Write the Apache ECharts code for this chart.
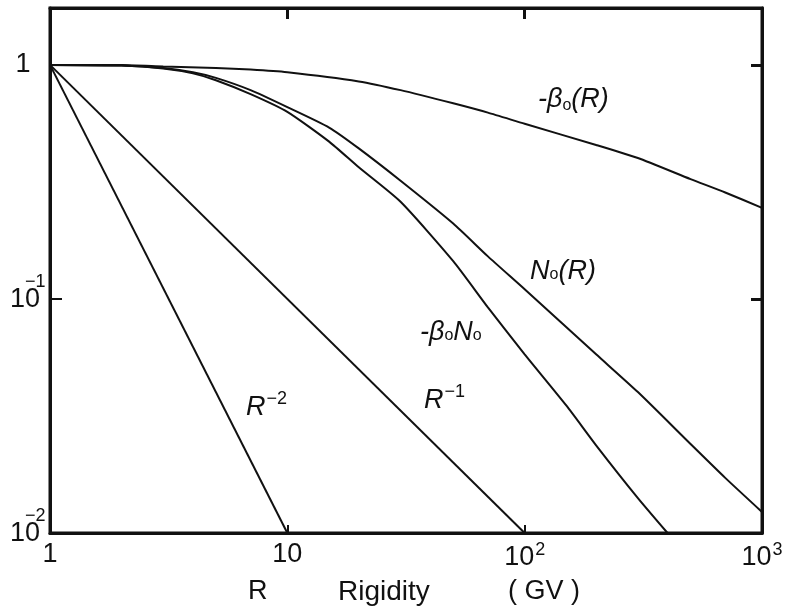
<!DOCTYPE html>
<html>
<head>
<meta charset="utf-8">
<script src="https://cdn.jsdelivr.net/npm/echarts@6/dist/echarts.min.js"></script>
<style>
  html, body { margin: 0; padding: 0; background: #fff; }
  #chart { width: 795px; height: 611px; }
</style>
</head>
<body>
<div id="chart"></div>
<script>
// Rigidity (GV) sample points and normalised curve values
const beta0R   = [1, 2, 3, 5, 7, 10, 20, 30, 50, 70, 100, 200, 300, 500, 700, 1000];
const beta0    = [1, 0.998, 0.985, 0.97, 0.955, 0.93, 0.85, 0.78, 0.685, 0.625, 0.56, 0.455, 0.40, 0.325, 0.285, 0.245];

const n0R      = [1, 2, 3, 4, 5, 7, 10, 15, 20, 30, 50, 70, 100, 200, 300, 500, 700, 1000];
const n0       = [1, 0.995, 0.97, 0.93, 0.88, 0.78, 0.66, 0.54, 0.44, 0.32, 0.21, 0.152, 0.11, 0.058, 0.04, 0.024, 0.0172, 0.0123];

const beta0N0R = [1, 2, 3, 4, 5, 7, 10, 15, 20, 30, 50, 70, 100, 150, 200, 300, 400];
const beta0N0  = [1, 0.993, 0.965, 0.92, 0.86, 0.75, 0.63, 0.47, 0.365, 0.26, 0.145, 0.092, 0.058, 0.035, 0.0237, 0.0141, 0.01];

// Reference power laws R^-1 and R^-2
const powR1R = [1, 100];
const powR1  = [1, 0.01];
const powR2R = [1, 10];
const powR2  = [1, 0.01];

// Axis ranges and value-axis tick labels
const xRange = [1, 1000];
const yRange = [0.01, 1.75];
const yTickValues = [1, 0.1, 0.01];
const yTickBase   = ['1', '10', '10'];
const yTickExp    = ['', '\u22121', '\u22122'];

const pairs = (xs, ys) => xs.map((x, i) => [x, ys[i]]);

const FONT = '"Liberation Sans", "DejaVu Sans", sans-serif';
const INK = '#111';

const xRich = {
  b: { fontSize: 27, fontFamily: FONT, color: INK },
  s: { fontSize: 18, fontFamily: FONT, color: INK, padding: [0, 0, 16, 1] }
};

function expLabel(v) {
  const e = Math.round(Math.log10(v));
  if (Math.abs(Math.log10(v) - e) > 1e-6) return '';
  if (e === 0) return '{b|1}';
  if (e === 1) return '{b|10}';
  return '{b|10}{s|' + e + '}';
}

const chart = echarts.init(document.getElementById('chart'), null, { renderer: 'canvas' });

const lineSeries = (name, data) => ({
  name, type: 'line', data,
  xAxisIndex: 0, yAxisIndex: 0,
  smooth: 0.2,
  symbol: 'none', clip: true,
  lineStyle: { color: INK, width: 2 }
});

const axisCommon = {
  type: 'log', logBase: 10,
  axisLine: { show: true, lineStyle: { color: INK, width: 3 } },
  splitLine: { show: false },
  minorTick: { show: false }
};

const italic = { fontSize: 27, fontStyle: 'italic', fontFamily: FONT, fill: INK };

chart.setOption({
  animation: false,
  backgroundColor: '#fff',
  grid: { left: 50, right: 33, top: 8, bottom: 78, containLabel: false, outerBoundsMode: 'none',
          show: true, borderColor: INK, borderWidth: 3, backgroundColor: 'transparent' },
  xAxis: [
    Object.assign({}, axisCommon, {
      position: 'bottom', min: xRange[0], max: xRange[1],
      axisTick: { show: true, inside: true, length: 8, lineStyle: { color: INK, width: 2 } },
      axisLabel: { show: true, margin: 8, formatter: expLabel, rich: xRich }
    }),
    Object.assign({}, axisCommon, {
      position: 'top', min: xRange[0], max: xRange[1],
      axisTick: { show: true, inside: true, length: 11, lineStyle: { color: INK, width: 3 } },
      axisLabel: { show: false }
    })
  ],
  yAxis: [
    Object.assign({}, axisCommon, {
      position: 'left', min: yRange[0], max: yRange[1],
      axisTick: { show: true, inside: true, length: 12, lineStyle: { color: INK, width: 2 } },
      axisLabel: { show: false }
    }),
    Object.assign({}, axisCommon, {
      position: 'right', min: yRange[0], max: yRange[1],
      axisTick: { show: true, inside: true, length: 11, lineStyle: { color: INK, width: 3 } },
      axisLabel: { show: false }
    })
  ],
  series: [
    lineSeries('-β0(R)', pairs(beta0R, beta0)),
    lineSeries('N0(R)', pairs(n0R, n0)),
    lineSeries('-β0N0', pairs(beta0N0R, beta0N0)),
    lineSeries('R^-1', pairs(powR1R, powR1)),
    lineSeries('R^-2', pairs(powR2R, powR2))
  ]
});

// Value-axis labels, lettered with the exponent raised over the "0"
const yLabelEls = [];
yTickValues.forEach((v, i) => {
  const py = chart.convertToPixel({ yAxisIndex: 0 }, v);
  if (!yTickExp[i]) {
    yLabelEls.push({ type: 'text', x: 23, y: py, style: { text: yTickBase[i], fontSize: 27, fontFamily: FONT, fill: INK, textAlign: 'center', align: 'center', textVerticalAlign: 'middle', verticalAlign: 'middle' } });
  } else {
    yLabelEls.push({ type: 'text', x: 10, y: py + 1, style: { text: yTickBase[i], fontSize: 27, fontFamily: FONT, fill: INK, textAlign: 'left', align: 'left', textVerticalAlign: 'middle', verticalAlign: 'middle' } });
    yLabelEls.push({ type: 'text', x: 25, y: py - 17, style: { text: yTickExp[i], fontSize: 18, fontFamily: FONT, fill: INK, textAlign: 'left', align: 'left', textVerticalAlign: 'middle', verticalAlign: 'middle' } });
  }
});

chart.setOption({
  graphic: yLabelEls.concat([
    // curve labels
    { type: 'text', left: 538, top: 86, style: { text: '{a|-β}{s|o}{a|(R)}', rich: {
        a: italic,
        s: { fontSize: 16, fontFamily: FONT, fill: INK, padding: [12, 0, 0, 0] } } } },
    { type: 'text', left: 530, top: 258, style: { text: '{a|N}{s|o}{a|(R)}', rich: {
        a: italic,
        s: { fontSize: 16, fontFamily: FONT, fill: INK, padding: [6, 0, 0, 0] } } } },
    { type: 'text', left: 420, top: 319, style: { text: '{a|-β}{s|o}{a|N}{s|o}', rich: {
        a: italic,
        s: { fontSize: 16, fontFamily: FONT, fill: INK, padding: [6, 0, 0, 0] } } } },
    { type: 'text', left: 424, top: 383, style: { text: '{a|R}{s|−1}', rich: {
        a: italic,
        s: { fontSize: 18, fontFamily: FONT, fill: INK, padding: [0, 0, 16, 1] } } } },
    { type: 'text', left: 246, top: 390, style: { text: '{a|R}{s|−2}', rich: {
        a: italic,
        s: { fontSize: 18, fontFamily: FONT, fill: INK, padding: [0, 0, 16, 1] } } } },
    // axis title
    { type: 'text', left: 248, top: 578, style: { text: 'R', fontSize: 27, fontFamily: FONT, fill: INK } },
    { type: 'text', left: 338, top: 578, style: { text: 'Rigidity', fontSize: 28, fontFamily: FONT, fill: INK } },
    { type: 'text', left: 508, top: 578, style: { text: '( GV )', fontSize: 27, fontFamily: FONT, fill: INK } }
  ])
});
</script>
</body>
</html>
